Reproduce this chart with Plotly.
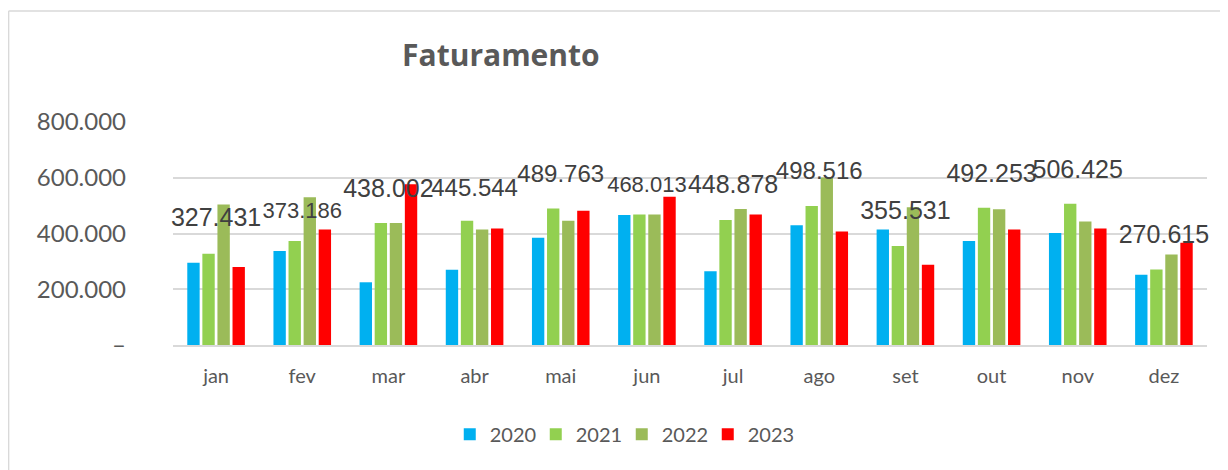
import plotly.graph_objects as go

# Meses e faturamento por ano
meses = ['jan', 'fev', 'mar', 'abr', 'mai', 'jun', 'jul', 'ago', 'set', 'out', 'nov', 'dez']
anos = ['2020', '2021', '2022', '2023']

fat_2020 = [295000, 337000, 225000, 270000, 385000, 466000, 265000, 430000, 414000, 373000, 402000, 252000]
fat_2021 = [327431, 373186, 438002, 445544, 489763, 468013, 448878, 498516, 355531, 492253, 506425, 270615]
fat_2022 = [504000, 530000, 438000, 414000, 446000, 468000, 488000, 601000, 494000, 487000, 443000, 325000]
fat_2023 = [280000, 414000, 577000, 418000, 482000, 532000, 468000, 407000, 288000, 414000, 418000, 367000]

y_tickvals = [0, 200000, 400000, 600000, 800000]
y_ticktext = ['–', '200.000', '400.000', '600.000', '800.000']

cores = ['#00B0F0', '#92D050', '#9BBB59', '#FF0000']

# onde os rótulos de 2021 ficaram no gráfico original (arrastados à mão)
altura_rotulos = [448000, 475000, 555000, 557000, 608000, 568000, 568000, 616000, 476000, 608000, 622000, 389000]
tamanho_rotulos = [25, 22, 25, 24, 24, 22, 25, 24, 25, 25, 25, 25]

cinza = '#595959'

fig = go.Figure()

for ano, valores, cor in zip(anos, [fat_2020, fat_2021, fat_2022, fat_2023], cores):
    fig.add_trace(go.Bar(
        x=meses,
        y=valores,
        name=ano,
        marker=dict(color=cor, line=dict(width=0)),
    ))

# rótulos de dados (valores de 2021)
fig.add_trace(go.Scatter(
    x=meses,
    y=altura_rotulos,
    mode='text',
    text=[f'{v:,}'.replace(',', '.') for v in fat_2021],
    textposition='middle center',
    textfont=dict(family='Liberation Sans, Arial', size=tamanho_rotulos, color='#404040'),
    cliponaxis=False,
    showlegend=False,
    hoverinfo='skip',
))

# moldura do gráfico (só esquerda e topo aparecem)
fig.add_shape(type='line', xref='paper', yref='paper',
              x0=-0.159, x1=1.05, y0=1.498, y1=1.498,
              line=dict(color='#d9d9d9', width=1.5))
fig.add_shape(type='line', xref='paper', yref='paper',
              x0=-0.159, x1=-0.159, y0=1.498, y1=-0.6,
              line=dict(color='#d9d9d9', width=1.5))

# a página tem 8px de margem no body, por isso a figura é 8px menor
fig.update_layout(
    width=1220,
    height=462,
    margin=dict(l=165, r=21, t=114, b=125, autoexpand=False),
    paper_bgcolor='white',
    plot_bgcolor='white',
    barmode='group',
    bargap=0.3,
    bargroupgap=0.18,
    font=dict(family='Lato, Open Sans', color=cinza),
    title=dict(
        text='<b>Faturamento</b>',
        x=0.404, xanchor='center',
        y=1 - 47 / 462, yanchor='middle',
        xref='container', yref='container',
        font=dict(family='Open Sans', size=30, color=cinza),
    ),
    legend=dict(
        orientation='h',
        x=0.434, xanchor='center',
        y=-0.40, yanchor='middle',
        font=dict(size=20, color=cinza),
        traceorder='normal',
        entrywidth=41,
        entrywidthmode='pixels',
    ),
    xaxis=dict(
        range=[-0.5, len(meses) - 0.5],
        showgrid=False,
        showline=True,
        linecolor='#d9d9d9',
        linewidth=2,
        tickfont=dict(size=20, color=cinza),
        ticks='',
        ticklabelstandoff=12,
        automargin=False,
    ),
    yaxis=dict(
        range=[0, 800000],
        tickvals=y_tickvals,
        ticktext=y_ticktext,
        showgrid=True,
        gridcolor='#d9d9d9',
        gridwidth=1.5,
        zeroline=False,
        tickfont=dict(size=24, color=cinza),
        ticklabelstandoff=46,
        automargin=False,
    ),
)

fig.write_html('out.html')
